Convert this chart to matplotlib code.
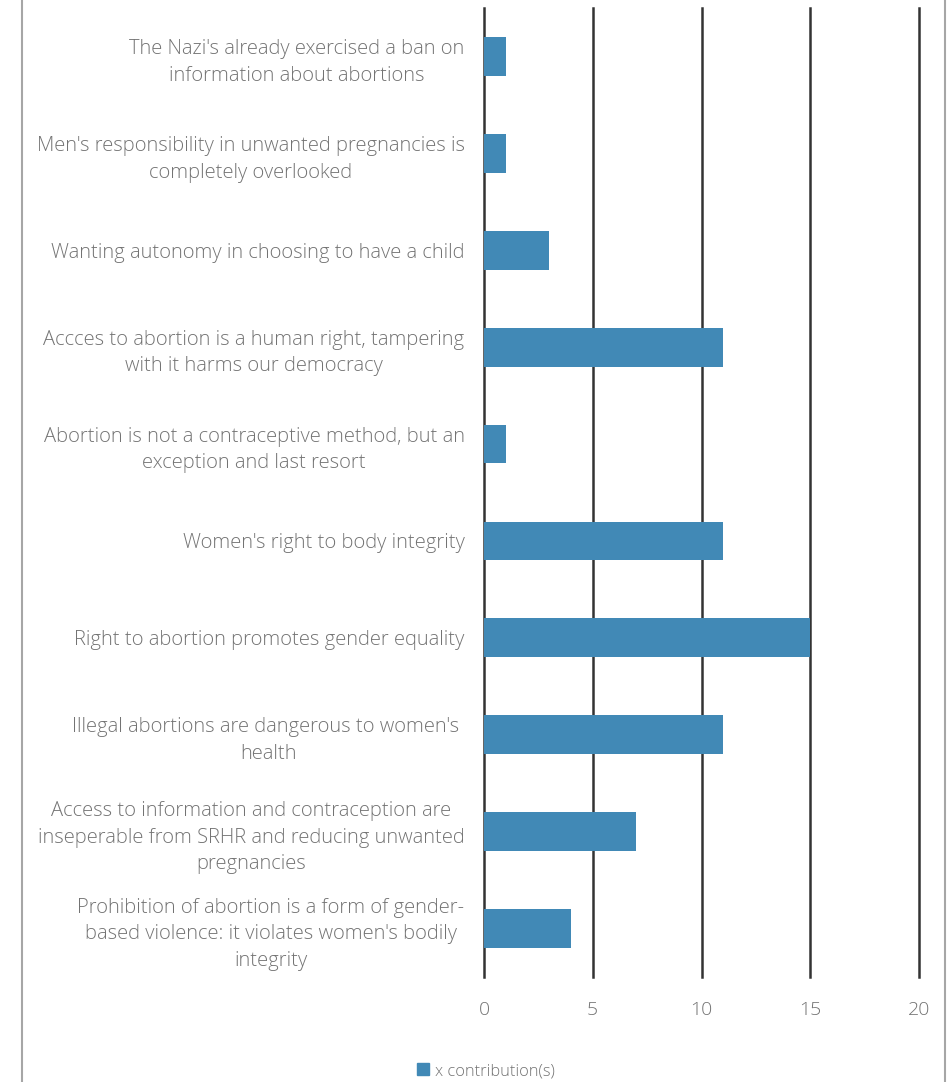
import matplotlib.pyplot as plt
import numpy as np
from matplotlib.lines import Line2D
from matplotlib.patches import Patch

plt.rcParams['font.family'] = ['Open Sans', 'DejaVu Sans']
plt.rcParams['font.weight'] = 'light'

# arguments, top to bottom
labels = [
    "The Nazi's already exercised a ban on\ninformation about abortions",
    "Men's responsibility in unwanted pregnancies is\ncompletely overlooked",
    "Wanting autonomy in choosing to have a child",
    "Accces to abortion is a human right, tampering\nwith it harms our democracy",
    "Abortion is not a contraceptive method, but an\nexception and last resort",
    "Women's right to body integrity",
    "Right to abortion promotes gender equality",
    "Illegal abortions are dangerous to women's \nhealth",
    "Access to information and contraception are\ninseperable from SRHR and reducing unwanted\npregnancies",
    "Prohibition of abortion is a form of gender-\nbased violence: it violates women's bodily\nintegrity",
]
contributions = [1, 1, 3, 11, 1, 11, 15, 11, 7, 4]
x_ticks = [0, 5, 10, 15, 20]

bar_color = '#4189b6'
text_color = '#737373'

fig = plt.figure(figsize=(9.53, 10.82), dpi=100)
ax = fig.add_axes([484 / 953, 1 - 977 / 1082, (919 - 484) / 953, (977 - 8) / 1082])

y = np.arange(len(labels))
ax.barh(y, contributions, height=0.4, color=bar_color, zorder=3)
ax.set_ylim(len(labels) - 0.5, -0.5)
ax.set_xlim(0, 20)
ax.set_xticks(x_ticks)
ax.set_yticks(y)
ax.set_yticklabels(labels, multialignment='center', linespacing=1.45)
for t in ax.get_yticklabels():
    t.set_y(t.get_position()[1])
ax.tick_params(axis='y', length=0, pad=14, labelsize=14.5, labelcolor=text_color)
ax.tick_params(axis='x', length=0, pad=17, labelsize=14, labelcolor=text_color)
ax.grid(axis='x', color='#333333', linewidth=1.8, zorder=1)
for gl in ax.get_xgridlines():
    gl.set_clip_on(False)
for s in ax.spines.values():
    s.set_visible(False)

# outer frame (only the side edges are visible)
fig.add_artist(Line2D([22 / 953, 22 / 953], [0, 1], color='#a6a6a6', linewidth=1.5))
fig.add_artist(Line2D([945 / 953, 945 / 953], [0, 1], color='#a6a6a6', linewidth=1.5))

handles = [Patch(color=bar_color, label='x contribution(s)')]
fig.legend(handles=handles, loc='center', bbox_to_anchor=(486 / 953, 1 - 1071 / 1082),
           frameon=False, fontsize=11.8, handlelength=0.75, handleheight=0.75,
           handletextpad=0.35, labelcolor=text_color)

fig.savefig('out.png', dpi=100)
